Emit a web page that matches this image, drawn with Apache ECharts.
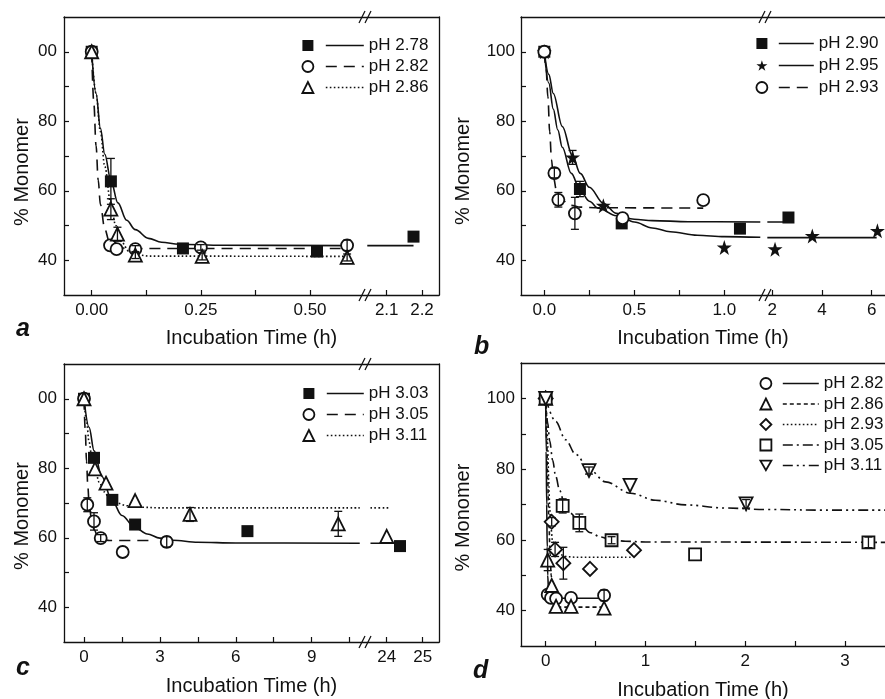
<!DOCTYPE html>
<html><head><meta charset="utf-8">
<script src="https://cdn.jsdelivr.net/npm/echarts@6.0.0/dist/echarts.min.js"></script>
<style>html,body{margin:0;padding:0;background:#fff}#c{width:885px;height:699px}</style>
</head><body><div id="c"></div>
<script>
// ================= DATA =================
// common y axis
const yTicks = [40,50,60,70,80,90,100];
const yLabels = [40,60,80,100];

// ---- Panel a ----
const aNames = ['pH 2.78','pH 2.82','pH 2.86'];
const aPts278 = [[0,100],[0.044,62.7],[0.209,43.4],[0.516,42.5],[2.176,46.8]];
const aPts282 = [[0,100],[0.042,44.3],[0.057,43.2],[0.1,43.2],[0.25,43.7],[0.585,44.3]];
const aPts286 = [[0,100],[0.044,54.7],[0.059,47.5],[0.1,41.5],[0.253,41.1],[0.585,40.8]];
const aFit278 = [[0,100],[0.01,88],[0.02,78],[0.03,70.5],[0.044,63],[0.06,56.5],[0.08,51.5],[0.1,48.8],[0.13,46.3],[0.16,45.2],[0.2,44.6],[0.3,44.3],[0.585,44.2],[2.045,44.2],[2.176,44.2]];
const aFit282 = [[0,100],[0.005,85],[0.01,73],[0.015,63],[0.02,56],[0.03,49],[0.04,45.5],[0.055,43.9],[0.08,43.4],[0.585,43.4]];
const aFit286 = [[0,100],[0.01,88],[0.02,77],[0.03,67],[0.044,56],[0.055,50],[0.07,45],[0.085,42.6],[0.1,41.7],[0.13,41.2],[0.585,41.1]];
const aErr = [[0.044,56.1,69.3],[0.044,51.7,57.7],[0.059,45.5,49.5],[0.1,42.2,44.2],[0.1,40.5,42.5],[0.25,42.9,44.5],[0.253,40.1,42.1],[0.585,42.8,45.8],[0.585,39.8,41.8]];
const aX1Ticks = [0,0.125,0.25,0.375,0.5];
const aX1Labels = [0,0.25,0.5];
const aX2Ticks = [2.1,2.2];
const aX2Labels = [2.1,2.2];

// ---- Panel b ----
const bNames = ['pH 2.90','pH 2.95','pH 2.93'];
const bPts290 = [[0,100],[0.198,60.5],[0.43,50.6],[1.087,49.1],[2.65,52.3]];
const bPts295 = [[0,100],[0.157,69.6],[0.328,55.7],[1.0,43.7],[2.11,43.2],[3.61,47],[6.23,48.5]];
const bPts293 = [[0,100],[0.056,65.1],[0.078,57.4],[0.17,53.5],[0.435,52.1],[0.883,57.3]];
const bFit290 = [[0,100],[0.025,91],[0.05,83.5],[0.075,77.5],[0.1,72.5],[0.15,65],[0.2,60],[0.25,57],[0.3,55],[0.4,52.8],[0.5,51.8],[0.6,51.4],[0.8,51.1],[1.2,51],[1.8,51],[2.65,51]];
const bFit295 = [[0,100],[0.025,93.5],[0.05,88],[0.1,78.5],[0.157,70],[0.2,65],[0.25,61],[0.33,56.3],[0.4,53.5],[0.5,51],[0.6,49.3],[0.7,48.2],[0.85,47.2],[1.0,46.8],[1.2,46.6],[1.8,46.5],[6.2,46.5]];
const bFit293 = [[0,100],[0.01,95],[0.02,87],[0.03,77],[0.04,69],[0.05,64],[0.07,59.5],[0.1,57.2],[0.15,55.8],[0.2,55.3],[0.3,55.1],[0.883,55]];
const bErr = [[0.198,58.3,62.7],[0.157,67.6,71.6],[0.056,63.7,66.5],[0.078,55.3,59.5],[0.17,48.9,58.1]];
const bX1Ticks = [0,0.25,0.5,0.75,1];
const bX1Labels = [0,0.5,1];
const bX2Ticks = [2,4,6];
const bX2Labels = [2,4,6];

// ---- Panel c ----
const cNames = ['pH 3.03','pH 3.05','pH 3.11'];
const cPts303 = [[0,100],[0.395,83.0],[1.12,70.9],[2.02,63.8],[6.46,61.9],[24.37,57.6]];
const cPts305 = [[0,100],[0.13,69.5],[0.395,64.7],[0.66,59.9],[1.53,55.9],[3.27,58.8]];
const cPts311 = [[0,100],[0.435,79.8],[0.87,75.7],[2.02,70.7],[4.19,66.7],[10.05,64.0],[24.0,60.4]];
const cFit303 = [[0,100],[0.2,91.8],[0.4,85],[0.7,77.7],[1.1,70.8],[1.5,66.4],[2,63],[2.5,61.1],[3,59.9],[3.5,59.3],[4.5,58.7],[6,58.5],[10.9,58.4],[23.55,58.4],[24.37,58.4]];
const cFit305 = [[0,100],[0.05,91],[0.1,82],[0.15,75],[0.2,70],[0.3,65],[0.4,62.3],[0.55,60.3],[0.75,59.5],[1,59.2],[2.8,59.2]];
const cFit311 = [[0,100],[0.1,93.5],[0.2,87.6],[0.3,83.9],[0.43,80],[0.6,76],[0.8,73.2],[1.0,71.4],[1.3,70],[1.7,69.2],[2.2,68.8],[3,68.6],[10.9,68.6],[23.55,68.6],[24.05,68.6]];
const cErr = [[0.13,67.5,71.5],[0.395,62.2,67.2],[0.66,58.9,60.9],[3.27,57.3,60.3],[4.19,64.7,68.7],[10.05,60.4,67.6]];
const cX1Ticks = [0,1.5,3,4.5,6,7.5,9,10.5];
const cX1Labels = [0,3,6,9];
const cX2Ticks = [24,25];
const cX2Labels = [24,25];

// ---- Panel d ----
const dNames = ['pH 2.82','pH 2.86','pH 2.93','pH 3.05','pH 3.11'];
const dPts282 = [[0,100],[0.02,44.5],[0.053,43.6],[0.104,43.4],[0.254,43.6],[0.585,44.3]];
const dPts286 = [[0,100],[0.02,54.3],[0.06,47.1],[0.104,41.2],[0.254,41.2],[0.585,40.7]];
const dPts293 = [[0,100],[0.06,65.1],[0.094,57.3],[0.177,53.4],[0.444,51.8],[0.885,57.1]];
const dPts305 = [[0,100],[0.17,69.6],[0.337,64.8],[0.66,59.9],[1.497,55.9],[3.234,59.3]];
const dPts311 = [[0,100],[0.434,79.6],[0.845,75.4],[2.008,70.2]];
const dFit282 = [[0,100],[0.005,85],[0.01,70],[0.015,58],[0.02,50],[0.03,45],[0.045,43.8],[0.07,43.5],[0.585,43.5]];
const dFit286 = [[0,100],[0.01,88],[0.02,77],[0.03,67],[0.044,56],[0.055,50],[0.07,45],[0.085,42.5],[0.1,41.4],[0.13,41],[0.585,41]];
const dFit293 = [[0,100],[0.01,95],[0.02,87],[0.03,77],[0.04,69],[0.05,64],[0.07,59.5],[0.1,57.2],[0.15,55.8],[0.2,55.3],[0.3,55.1],[0.87,55.1]];
const dFit305 = [[0,100],[0.02,93],[0.04,88],[0.07,82.5],[0.1,78],[0.14,74],[0.18,71],[0.25,67.5],[0.34,64.6],[0.45,62],[0.55,60.8],[0.66,60],[0.8,59.6],[1.0,59.4],[3.4,59.3]];
const dFit311 = [[0,100],[0.1,93.5],[0.2,88.3],[0.3,84.2],[0.434,80],[0.6,76.4],[0.85,73.2],[1.1,71.2],[1.4,69.9],[1.8,69],[2.2,68.6],[2.8,68.4],[3.4,68.4]];
const dErr = [[0.17,67.6,71.6],[0.337,62.3,67.3],[0.66,58.9,60.9],[3.234,57.8,60.8],[0.06,63.9,66.3],[0.094,55.3,59.3],[0.177,48.9,57.9],[0.434,78.6,80.6],[2.008,69,71.4],[0.585,42.8,45.8],[0.02,51.3,57.3]];
const dXTicks = [0,0.5,1,1.5,2,2.5,3];
const dXLabels = [0,1,2,3];

// ================= STYLE / BUILD =================
const INK = '#111111';
const FONT = "'Liberation Sans', Arial, Helvetica, sans-serif";
const STAR = 'path://M50,2L61,36L97,36L68,57L79,92L50,71L21,92L32,57L3,36L39,36Z';
const INVTRI = 'path://M0,0L100,0L50,87Z';
const DASH = [11,7], DOT = [1.6,2.4], SHORT = [4,3], DASHDOT = [10,4,2,4], DASHDOTDOT = [10,4,2,4,2,4];

const option = {
  animation:false, backgroundColor:'#fff',
  textStyle:{fontFamily:FONT, color:INK},
  grid:[], xAxis:[], yAxis:[], series:[], legend:[], title:[], graphic:[]
};
const LINE = {show:true, onZero:false, lineStyle:{color:INK, width:1.3}};
const NOLINE = {show:false, onZero:false};

function addGrid(l,t,w,h){
  option.grid.push({left:l, top:t, width:w, height:h, containLabel:false, outerBoundsMode:'none'});
  return option.grid.length-1;
}
function frame(l,t,w,h,right,xGap,yGap,yPad){
  const g = addGrid(l,t,w,h);
  const base = {gridIndex:g, type:'value', min:0, max:1, axisTick:{show:false}, axisLabel:{show:false}, splitLine:{show:false}, silent:true};
  option.xAxis.push(Object.assign({}, base, {position:'bottom', axisLine:LINE,
    name:'Incubation Time (h)', nameLocation:'middle', nameGap:xGap, nameMoveOverlap:false,
    nameTextStyle:{fontSize:20, color:INK, fontFamily:FONT}}));
  option.xAxis.push(Object.assign({}, base, {position:'top', axisLine:LINE}));
  option.yAxis.push(Object.assign({}, base, {position:'left', axisLine:LINE,
    name:'% Monomer', nameLocation:'middle', nameRotate:90, nameGap:yGap, nameMoveOverlap:false,
    nameTextStyle:{fontSize:20, color:INK, fontFamily:FONT, padding:[0,yPad,0,0]}}));
  if (right) option.yAxis.push(Object.assign({}, base, {position:'right', axisLine:LINE}));
}
function dataGrid(l,t,w,h,xmin,xmax,xTicks,xLabels,xFmt,yShow,yFmt,yMargin){
  const g = addGrid(l,t,w,h);
  const xi = option.xAxis.length;
  option.xAxis.push({gridIndex:g, type:'value', min:xmin, max:xmax, position:'bottom', axisLine:NOLINE,
    axisTick:{show:true, inside:true, length:5, customValues:xTicks, lineStyle:{color:INK, width:1.2}},
    axisLabel:{show:true, customValues:xLabels, formatter:xFmt, fontSize:17, color:INK, margin:7, fontFamily:FONT},
    splitLine:{show:false}});
  const yi = option.yAxis.length;
  if (yShow) {
    option.yAxis.push({gridIndex:g, type:'value', min:30, max:110, position:'left', axisLine:NOLINE,
      axisTick:{show:true, inside:true, length:5, customValues:yTicks, lineStyle:{color:INK, width:1.2}},
      axisLabel:{show:true, customValues:yLabels, formatter:yFmt, fontSize:17, color:INK, margin:yMargin, fontFamily:FONT},
      splitLine:{show:false}});
  } else {
    option.yAxis.push({gridIndex:g, type:'value', min:30, max:110, show:false});
  }
  return {xi, yi, xmin, xmax};
}
function inSeg(data, s){ return data.filter(p => p[0] >= s.xmin - 1e-9 && p[0] <= s.xmax + 1e-9); }
function errRender(params, api){
  const x = api.value(0), lo = api.value(1), hi = api.value(2);
  const a = api.coord([x, hi]), b = api.coord([x, lo]);
  const w = 4, st = {stroke:INK, lineWidth:1.3};
  return {type:'group', children:[
    {type:'line', shape:{x1:a[0],y1:a[1],x2:b[0],y2:b[1]}, style:st},
    {type:'line', shape:{x1:a[0]-w,y1:a[1],x2:a[0]+w,y2:a[1]}, style:st},
    {type:'line', shape:{x1:b[0]-w,y1:b[1],x2:b[0]+w,y2:b[1]}, style:st}
  ]};
}
function hollowStyle(h){ return h ? {color:'#fff', borderColor:INK, borderWidth:1.8, opacity:1} : {color:INK, borderWidth:0, opacity:1}; }

function addPanel(key, segs, list, errs, L){
  list.forEach(it => {
    segs.forEach((s, si) => {
      const f = inSeg(it.fit, s);
      if (f.length > 1) option.series.push({type:'line', name:key+'|l'+si+'|'+it.name,
        xAxisIndex:s.xi, yAxisIndex:s.yi, data:f, symbol:'none', showSymbol:false,
        smooth:0.35, smoothMonotone:'x', z:2, silent:true,
        lineStyle:{color:INK, width:1.6, type:it.dash}, itemStyle:{color:INK}});
      const p = inSeg(it.pts, s);
      if (p.length) option.series.push({type:'scatter', name:key+'|s'+si+'|'+it.name,
        xAxisIndex:s.xi, yAxisIndex:s.yi, data:p, symbol:it.symbol, symbolSize:it.size,
        itemStyle:hollowStyle(it.hollow), z:3, silent:true});
    });
  });
  segs.forEach((s, si) => {
    const e = inSeg(errs, s);
    if (e.length) option.series.push({type:'custom', name:key+'|e'+si, xAxisIndex:s.xi, yAxisIndex:s.yi,
      data:e, encode:{x:0, y:[1,2]}, renderItem:errRender, z:4, silent:true});
  });
  option.legend.push({
    data:list.map(it => ({name:key+'|s0|'+it.name, icon:it.symbol, itemStyle:hollowStyle(it.hollow)})),
    orient:'vertical', left:L.symLeft, top:L.top, itemWidth:L.sym, itemHeight:L.sym, itemGap:L.gap,
    padding:0, selectedMode:false, formatter:() => ' ',
    textStyle:{fontSize:17, lineHeight:16, color:INK, fontFamily:FONT}
  });
  option.legend.push({
    data:list.map(it => key+'|l0|'+it.name),
    orient:'vertical', left:L.lineLeft, top:L.top, itemWidth:L.lineW, itemHeight:12, itemGap:L.gap,
    padding:0, selectedMode:false, formatter:n => n.split('|')[2],
    itemStyle:{opacity:0}, lineStyle:{width:1.6},
    textStyle:{fontSize:17, lineHeight:16, color:INK, fontFamily:FONT}
  });
}
const f2 = v => v.toFixed(2), f1 = v => v.toFixed(1), f0 = v => String(v);
const y00 = v => (v === 100 ? '00' : String(v));

// ---- Panel a ----
frame(64,17,375,278,true,33,32,32);
const a1 = dataGrid(64,17,299,278,-0.0634,0.6214,aX1Ticks,aX1Labels,f2,true,y00,7);
const a2 = dataGrid(367,17,72,278,2.0442,2.2482,aX2Ticks,aX2Labels,f1,false);
addPanel('a',[a1,a2],[
  {name:aNames[0], pts:aPts278, fit:aFit278, symbol:'rect', size:12, hollow:false, dash:'solid'},
  {name:aNames[1], pts:aPts282, fit:aFit282, symbol:'circle', size:12, hollow:true, dash:DASH},
  {name:aNames[2], pts:aPts286, fit:aFit286, symbol:'triangle', size:13, hollow:true, dash:DOT}
], aErr, {symLeft:301.5, lineLeft:325, lineW:38, top:37, gap:4, sym:11});

// ---- Panel b ----
frame(521,17,364,278,false,33,48,30);
const b1 = dataGrid(521,17,242,278,-0.1294,1.2150,bX1Ticks,bX1Labels,f1,true,f0,6);
const b2 = dataGrid(767,17,118,278,1.7867,6.5352,bX2Ticks,bX2Labels,f0,false);
addPanel('b',[b1,b2],[
  {name:bNames[0], pts:bPts290, fit:bFit290, symbol:'rect', size:12, hollow:false, dash:'solid'},
  {name:bNames[1], pts:bPts295, fit:bFit295, symbol:STAR, size:15, hollow:false, dash:'solid'},
  {name:bNames[2], pts:bPts293, fit:bFit293, symbol:'circle', size:12, hollow:true, dash:DASH}
], bErr, {symLeft:755.5, lineLeft:778, lineW:35, top:35, gap:5, sym:11});

// ---- Panel c ----
frame(64,364,375,278,true,34,32,26);
const c1 = dataGrid(64,364,299,278,-0.7905,11.028,cX1Ticks,cX1Labels,f0,true,y00,7);
const c2 = dataGrid(367,364,72,278,23.453,25.453,cX2Ticks,cX2Labels,f0,false);
addPanel('c',[c1,c2],[
  {name:cNames[0], pts:cPts303, fit:cFit303, symbol:'rect', size:12, hollow:false, dash:'solid'},
  {name:cNames[1], pts:cPts305, fit:cFit305, symbol:'circle', size:12, hollow:true, dash:DASH},
  {name:cNames[2], pts:cPts311, fit:cFit311, symbol:'triangle', size:13, hollow:true, dash:DOT}
], cErr, {symLeft:302.5, lineLeft:326, lineW:37, top:385, gap:4, sym:11});

// ---- Panel d ----
frame(521,363,364,283,false,34,48,26);
const d1 = dataGrid(521,363,364,283,-0.2475,3.40,dXTicks,dXLabels,f0,true,f0,6);
addPanel('d',[d1],[
  {name:dNames[0], pts:dPts282, fit:dFit282, symbol:'circle', size:12, hollow:true, dash:'solid'},
  {name:dNames[1], pts:dPts286, fit:dFit286, symbol:'triangle', size:13, hollow:true, dash:SHORT},
  {name:dNames[2], pts:dPts293, fit:dFit293, symbol:'diamond', size:14, hollow:true, dash:DOT},
  {name:dNames[3], pts:dPts305, fit:dFit305, symbol:'rect', size:12, hollow:true, dash:DASHDOT},
  {name:dNames[4], pts:dPts311, fit:dFit311, symbol:INVTRI, size:13, hollow:true, dash:DASHDOTDOT}
], dErr, {symLeft:759.5, lineLeft:782, lineW:36, top:375, gap:3.5, sym:11});

// ---- panel letters ----
const letterStyle = {fontSize:25, fontWeight:'bold', fontStyle:'italic', color:INK, fontFamily:FONT};
option.title = [
  {text:'a', left:16, top:317, padding:0, textStyle:letterStyle},
  {text:'b', left:474, top:335, padding:0, textStyle:letterStyle},
  {text:'c', left:16, top:656, padding:0, textStyle:letterStyle},
  {text:'d', left:473, top:659, padding:0, textStyle:letterStyle}
];

// ---- axis-break marks (decoration) ----
function breakMark(cx, cy){
  return [-3, 3].map(dx => ({type:'line', z:100,
    shape:{x1:cx+dx-3, y1:cy+6, x2:cx+dx+3, y2:cy-6}, style:{stroke:INK, lineWidth:1.3}}));
}
option.graphic = [].concat(breakMark(365,17), breakMark(365,295), breakMark(765,17), breakMark(765,295),
  breakMark(365,364), breakMark(365,642));

const chart = echarts.init(document.getElementById('c'), null, {renderer:'canvas'});
chart.setOption(option);
</script>
</body></html>
